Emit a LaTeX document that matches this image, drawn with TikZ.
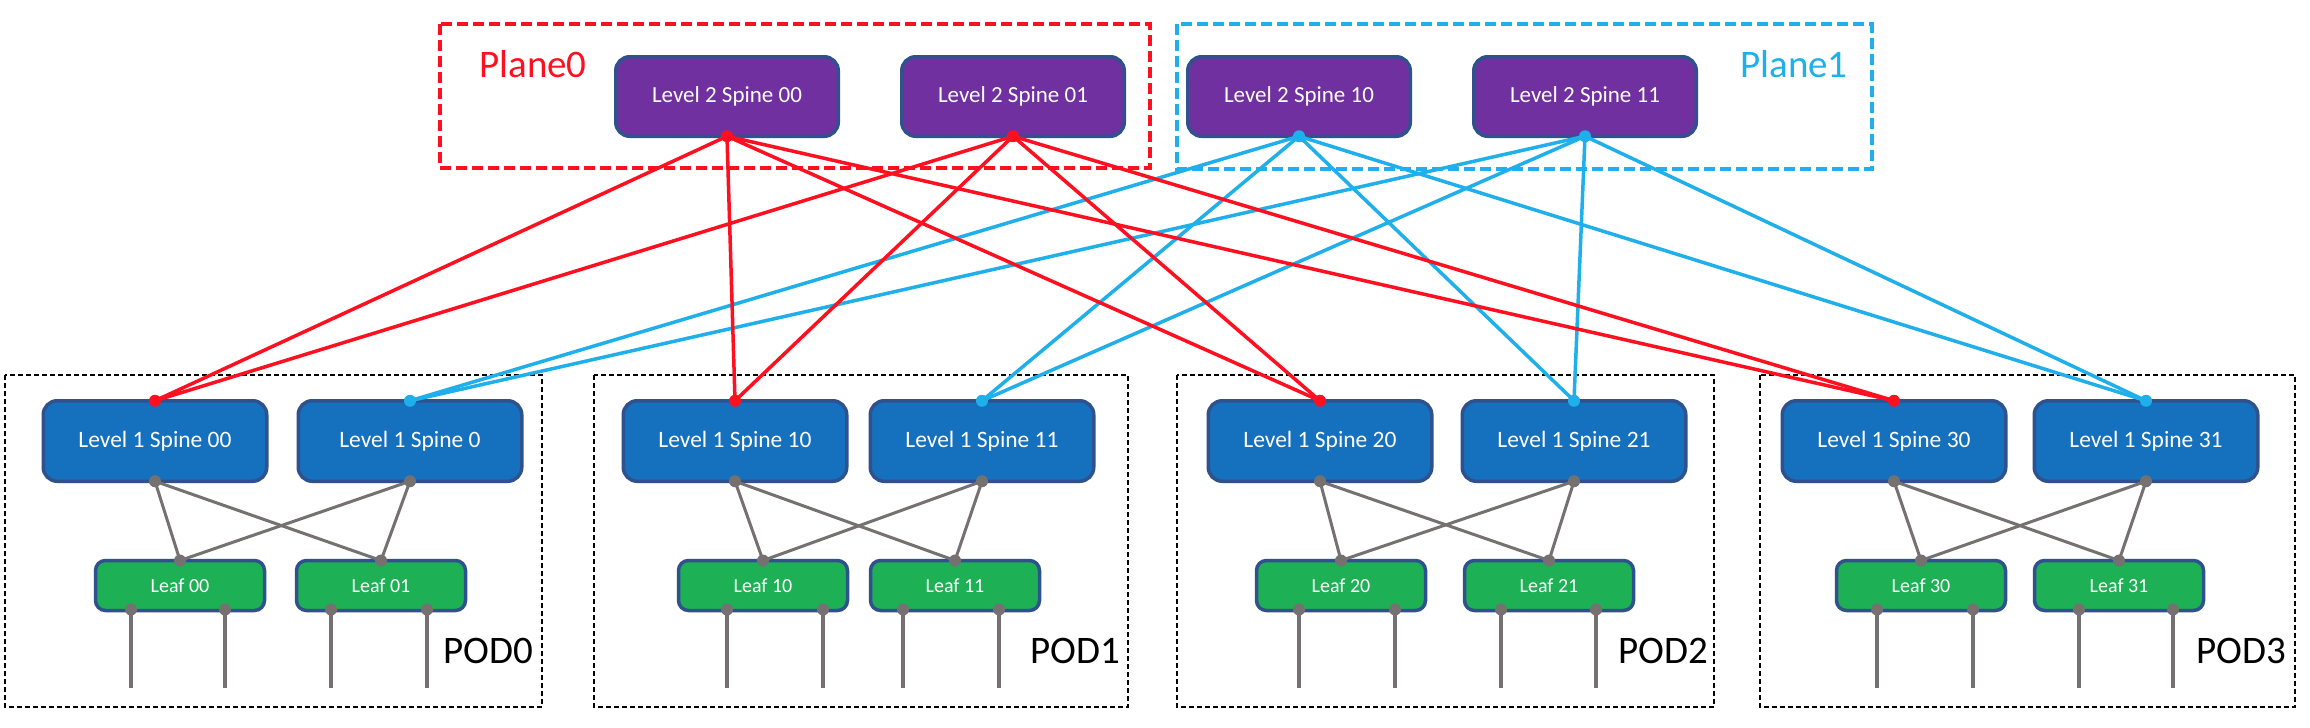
\documentclass[tikz,border=0pt]{standalone}
\usepackage{fontspec}
\setmainfont{Carlito}
\usetikzlibrary{calc}
\definecolor{purp}{HTML}{7030A0}
\definecolor{sblue}{HTML}{1570BD}
\definecolor{lgreen}{HTML}{1DB054}
\definecolor{edgec}{HTML}{2F528F}
\definecolor{pred}{HTML}{FF1020}
\definecolor{pblue}{HTML}{1FB0EC}
\definecolor{lgray}{HTML}{767171}
\begin{document}
\begin{tikzpicture}[x=1pt,y=-1pt,
  l2box/.style={draw=edgec,line width=3.5pt,fill=purp,rounded corners=14pt,minimum width=222.5pt,minimum height=79.5pt,text=white,font=\fontsize{23}{28}\selectfont,outer sep=0pt,inner sep=0pt},
  l1box/.style={draw=edgec,line width=3.5pt,fill=sblue,rounded corners=14pt,minimum width=223.5pt,minimum height=80.5pt,text=white,font=\fontsize{23.5}{28}\selectfont,outer sep=0pt,inner sep=0pt},
  leafbox/.style={draw=edgec,line width=3.5pt,fill=lgreen,rounded corners=10pt,minimum width=169pt,minimum height=50pt,text=white,font=\fontsize{20}{24}\selectfont,outer sep=0pt,inner sep=0pt},
  podbox/.style={draw=black,line width=1.8pt,dash pattern=on 5pt off 3pt},
  planered/.style={draw=pred,line width=4pt,dash pattern=on 11pt off 5pt},
  planeblue/.style={draw=pblue,line width=4pt,dash pattern=on 11pt off 5pt},
  redline/.style={draw=pred,line width=3.5pt},
  blueline/.style={draw=pblue,line width=3.5pt},
  gline/.style={draw=lgray,line width=3pt},
  hline/.style={draw=lgray,line width=3.2pt},
  biglabel/.style={font=\fontsize{39}{47}\selectfont,inner sep=0pt}
]
\useasboundingbox (0,0) rectangle (2310,728);
\fill[white] (0,0) rectangle (2310,728);

% planes
\draw[planered] (440,24) rectangle (1150,168);
\draw[planeblue] (1177,24) rectangle (1871.5,169);
\node[biglabel,text=pred] (pl0) at (533,64.5) {Plane0};
\node[biglabel,text=pblue] (pl1) at (1794,64.5) {Plane1};

% level 2 spines
\node[l2box] (t00) at (727,96.5) {Level 2 Spine 00};
\node[l2box] (t01) at (1013,96.5) {Level 2 Spine 01};
\node[l2box] (t10) at (1299,96.5) {Level 2 Spine 10};
\node[l2box] (t11) at (1585,96.5) {Level 2 Spine 11};

% pods
\foreach \p/\bl/\br/\sa/\sb/\la/\lb/\na/\nb/\tx/\ha/\hb/\hc/\hd in {
  0/5/542/155/410/180/381/00/0/488.5/131/225/331/427,
  1/594/1128/735/982/763/955/10/11/1075.5/727/823/903/999,
  2/1177/1714/1320/1574/1341/1549/20/21/1663.5/1299/1395/1501/1596,
  3/1760/2295/1894/2146/1921/2119/30/31/2241/1877/1973/2079/2173}{
  \draw[podbox] (\bl,375) rectangle (\br,707);
  \node[l1box] (sa\p) at (\sa,441) {Level 1 Spine \na};
  \node[l1box] (sb\p) at (\sb,441) {Level 1 Spine \nb};
  \node[leafbox] (la\p) at (\la,585.5) {Leaf \p0};
  \node[leafbox] (lb\p) at (\lb,585.5) {Leaf \p1};
  \node[biglabel,text=black] (pod\p) at (\tx,650.5) {POD\p};
  \draw[gline] (sa\p.south) -- (la\p.north);
  \draw[gline] (sa\p.south) -- (lb\p.north);
  \draw[gline] (sb\p.south) -- (la\p.north);
  \draw[gline] (sb\p.south) -- (lb\p.north);
  \foreach \h in {\ha,\hb}{
    \draw[hline] (la\p.south -| \h,0) ++(0,-1) -- ++(0,78);
    \fill[lgray] (la\p.south -| \h,0) ++(0,-1) circle[radius=6pt];
  }
  \foreach \h in {\hc,\hd}{
    \draw[hline] (lb\p.south -| \h,0) ++(0,-1) -- ++(0,78);
    \fill[lgray] (lb\p.south -| \h,0) ++(0,-1) circle[radius=6pt];
  }
  \fill[lgray] (sa\p.south) circle[radius=6pt];
  \fill[lgray] (sb\p.south) circle[radius=6pt];
  \fill[lgray] (la\p.north) circle[radius=6pt];
  \fill[lgray] (lb\p.north) circle[radius=6pt];
}

% plane links
\foreach \p in {0,1,2,3}{
  \draw[blueline] (t10.south) -- (sb\p.north);
  \draw[blueline] (t11.south) -- (sb\p.north);
}
\foreach \p in {0,1,2,3}{
  \draw[redline] (t00.south) -- (sa\p.north);
  \draw[redline] (t01.south) -- (sa\p.north);
}
\foreach \n in {t00,t01}{\fill[pred] (\n.south) circle[radius=6pt];}
\foreach \n in {t10,t11}{\fill[pblue] (\n.south) circle[radius=6pt];}
\foreach \p in {0,1,2,3}{
  \fill[pred] (sa\p.north) circle[radius=6pt];
  \fill[pblue] (sb\p.north) circle[radius=6pt];
}
\end{tikzpicture}
\end{document}
